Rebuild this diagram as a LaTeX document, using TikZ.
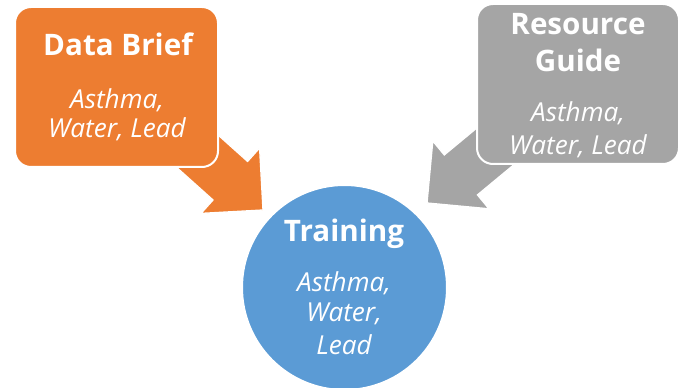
\documentclass[tikz,border=0pt]{standalone}
\usepackage{fontspec}
\setmainfont{Open Sans}
\definecolor{briefOrange}{RGB}{237,125,49}
\definecolor{guideGrey}{RGB}{165,165,165}
\definecolor{trainBlue}{RGB}{91,155,213}
\tikzset{every picture/.style={line width=0.75pt}}
\tikzset{
  titletext/.style={anchor=base,inner sep=0.75pt,text=white,font=\fontsize{22.2}{26}\selectfont\bfseries},
  topictext/.style={anchor=base,inner sep=0.75pt,text=white,font=\fontsize{19.6}{23}\selectfont\itshape},
}

\begin{document}
\begin{tikzpicture}[x=0.75pt,y=0.75pt,yscale=-1,xscale=1]
\useasboundingbox (0,0) rectangle (689,388);

%Block Arrow [orange]
\draw [draw=white, line width=1pt, fill=briefOrange] (146,140) -- (213,200) -- (201,213.4) -- (263,210) -- (259.6,148) -- (247.6,161.4) -- (180.6,101.4) -- cycle ;
%Block Arrow [grey]
\draw [draw=white, line width=1pt, fill=guideGrey] (546.9,137.4) -- (477.5,194.9) -- (489,208.8) -- (427,203) -- (432.8,141) -- (444.3,154.9) -- (513.7,97.4) -- cycle ;

%Shape: Rounded Rect [brief]
\draw [draw=white, line width=1.5pt, fill=briefOrange, rounded corners=12] (15,7) rectangle (218,167) ;
%Shape: Rounded Rect [guide]
\draw [draw=white, line width=1.5pt, fill=guideGrey, rounded corners=12] (477,4) rectangle (679,164) ;
%Shape: Circle [training]
\draw [draw=white, line width=1.5pt, fill=trainBlue] (344.5,287.5) circle [radius=102.5] ;

% Text Node
\node [titletext] (briefTitle) at (118,56) {Data Brief};
% Text Node
\node [topictext] (briefL1) at (117,109) {Asthma,};
% Text Node
\node [topictext] (briefL2) at (117,138) {Water, Lead};
% Text Node
\node [titletext] (guideTitle1) at (578,35) {Resource};
% Text Node
\node [titletext] (guideTitle2) at (578,72) {Guide};
% Text Node
\node [topictext] (guideL1) at (578,122) {Asthma,};
% Text Node
\node [topictext] (guideL2) at (578,155) {Water, Lead};
% Text Node
\node [titletext] (trainTitle) at (344,242) {Training};
% Text Node
\node [topictext] (trainL1) at (344,292) {Asthma,};
% Text Node
\node [topictext] (trainL2) at (344,322) {Water,};
% Text Node
\node [topictext] (trainL3) at (344,354) {Lead};

\end{tikzpicture}
\end{document}
